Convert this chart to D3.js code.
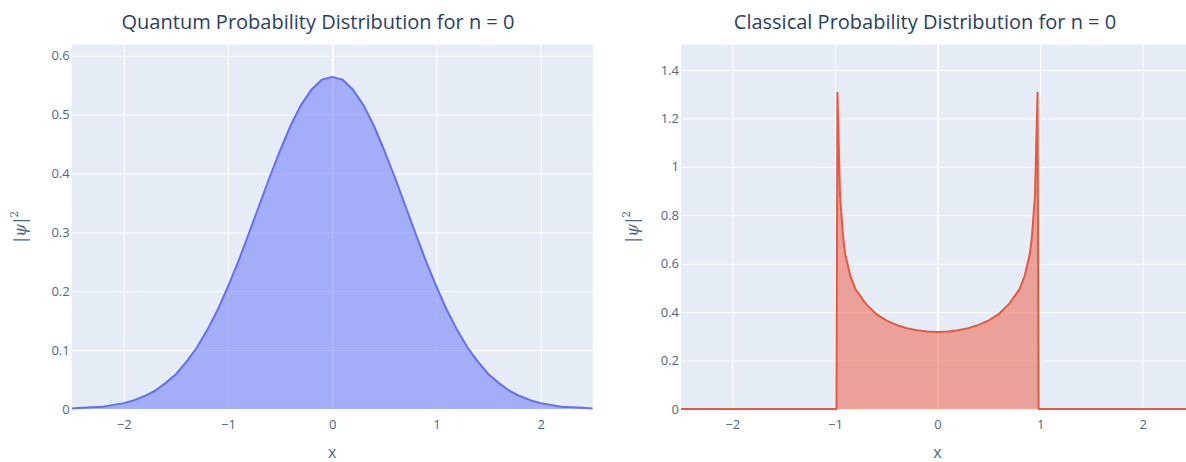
<!DOCTYPE html>
<html>
<head>
<meta charset="utf-8">
<script src="https://cdn.jsdelivr.net/npm/d3@7"></script>
<style>
  html, body { margin: 0; padding: 0; background: #fff; }
  svg { display: block; font-family: "Open Sans", verdana, arial, sans-serif; }
</style>
</head>
<body>
<svg id="chart" width="1186" height="462"></svg>
<script>
// ---------- data ----------
const quantumX = [-2.5,-2.4,-2.3,-2.2,-2.1,-2.0,-1.9,-1.8,-1.7,-1.6,-1.5,-1.4,-1.3,-1.2,-1.1,-1.0,-0.9,-0.8,-0.7,-0.6,-0.5,-0.4,-0.3,-0.2,-0.1,0,
  0.1,0.2,0.3,0.4,0.5,0.6,0.7,0.8,0.9,1.0,1.1,1.2,1.3,1.4,1.5,1.6,1.7,1.8,1.9,2.0,2.1,2.2,2.3,2.4,2.5];
const quantumY = [0.001,0.002,0.003,0.004,0.007,0.010,0.015,0.022,0.031,0.044,0.059,0.080,0.104,0.134,0.168,0.208,0.251,0.298,0.346,0.394,0.439,0.481,0.516,0.542,0.559,0.564,
  0.559,0.542,0.516,0.481,0.439,0.394,0.346,0.298,0.251,0.208,0.168,0.134,0.104,0.080,0.059,0.044,0.031,0.022,0.015,0.010,0.007,0.004,0.003,0.002,0.001];

const classicalX = [-2.5,-1.5,-0.985,-0.975,-0.95,-0.92,-0.9,-0.85,-0.8,-0.7,-0.6,-0.5,-0.4,-0.3,-0.2,-0.1,0,
  0.1,0.2,0.3,0.4,0.5,0.6,0.7,0.8,0.85,0.9,0.92,0.95,0.975,0.985,1.5,2.5];
const classicalY = [0,0,0,1.306,0.88,0.71,0.64,0.55,0.495,0.435,0.393,0.366,0.347,0.334,0.325,0.320,0.318,
  0.320,0.325,0.334,0.347,0.366,0.393,0.435,0.495,0.55,0.64,0.71,0.88,1.306,0,0,0];

const xTicks = [-2,-1,0,1,2];
const quantumYTicks = [0,0.1,0.2,0.3,0.4,0.5,0.6];
const classicalYTicks = [0,0.2,0.4,0.6,0.8,1,1.2,1.4];

const titles = ["Quantum Probability Distribution for n = 0", "Classical Probability Distribution for n = 0"];

// ---------- layout ----------
const svg = d3.select("#chart");
const plotTop = 44.5, plotBottom = 409;
const panels = [
  { left: 71.7, right: 592.7, yMax: 0.619, xs: quantumX, ys: quantumY, yTicks: quantumYTicks,
    line: "#636efa", fill: "rgba(99,110,250,0.5)", title: titles[0], titleX: 318, yTitleX: 20, id: "q" },
  { left: 681, right: 1194, yMax: 1.505, xs: classicalX, ys: classicalY, yTicks: classicalYTicks,
    line: "#EF553B", fill: "rgba(239,85,59,0.5)", title: titles[1], titleX: 925, yTitleX: 632, id: "c" }
];

const fmtTick = v => (v < 0 ? "\u2212" + Math.abs(v) : String(v));
const FONT = '"Open Sans", verdana, arial, sans-serif';

panels.forEach(p => {
  const x = d3.scaleLinear().domain([-2.5, 2.5]).range([p.left, p.right]);
  const y = d3.scaleLinear().domain([0, p.yMax]).range([plotBottom, plotTop]);

  svg.append("rect").attr("x", p.left).attr("y", plotTop)
    .attr("width", p.right - p.left).attr("height", plotBottom - plotTop).attr("fill", "#E5ECF6");

  svg.append("clipPath").attr("id", "clip-" + p.id)
    .append("rect").attr("x", p.left).attr("y", plotTop - 2)
    .attr("width", p.right - p.left).attr("height", plotBottom - plotTop + 4);

  const gx = svg.append("g").attr("transform", `translate(0,${plotBottom})`)
    .call(d3.axisBottom(x).tickValues(xTicks).tickSize(-(plotBottom - plotTop)).tickFormat(fmtTick));
  gx.select(".domain").remove();
  gx.selectAll("line").attr("stroke", "#fff").attr("stroke-width", d => d === 0 ? 2 : 1);
  gx.selectAll("text").attr("fill", "#506784").attr("font-size", 13)
    .attr("font-family", FONT).attr("y", 11).attr("dy", "0.71em");

  const gy = svg.append("g").attr("transform", `translate(${p.left},0)`)
    .call(d3.axisLeft(y).tickValues(p.yTicks).tickSize(-(p.right - p.left)).tickFormat(d3.format("~g")));
  gy.select(".domain").remove();
  gy.selectAll("line").attr("stroke", "#fff").attr("stroke-width", d => d === 0 ? 2 : 1);
  gy.selectAll("text").attr("fill", "#506784").attr("font-size", 13)
    .attr("font-family", FONT).attr("x", -2);

  const pts = p.xs.map((v, i) => [v, p.ys[i]]);
  const g = svg.append("g").attr("clip-path", `url(#clip-${p.id})`);
  g.append("path").datum(pts)
    .attr("d", d3.area().x(d => x(d[0])).y0(y(0)).y1(d => y(d[1])))
    .attr("fill", p.fill);
  g.append("path").datum(pts)
    .attr("d", d3.line().x(d => x(d[0])).y(d => y(d[1])))
    .attr("fill", "none").attr("stroke", p.line).attr("stroke-width", 2)
    .attr("stroke-linejoin", "round");

  svg.append("text").attr("x", p.titleX).attr("y", 29).attr("text-anchor", "middle")
    .attr("fill", "#2a3f5f").attr("font-size", 20).text(p.title);

  svg.append("text").attr("x", (p.left + p.right) / 2).attr("y", 458)
    .attr("text-anchor", "middle").attr("fill", "#506784").attr("font-size", 16).text("x");

  const yt = svg.append("text")
    .attr("transform", `translate(${p.yTitleX},${(plotTop + plotBottom) / 2}) rotate(-90)`)
    .attr("text-anchor", "middle").attr("dy", "0.35em")
    .attr("fill", "#506784").attr("font-size", 17)
    .attr("font-family", '"DejaVu Serif", "Liberation Serif", serif');
  yt.append("tspan").text("|");
  yt.append("tspan").attr("font-style", "italic").text("\u03C8");
  yt.append("tspan").text("|");
  yt.append("tspan").attr("font-size", 11).attr("dy", "-0.7em").text("2");
});
</script>
</body>
</html>
